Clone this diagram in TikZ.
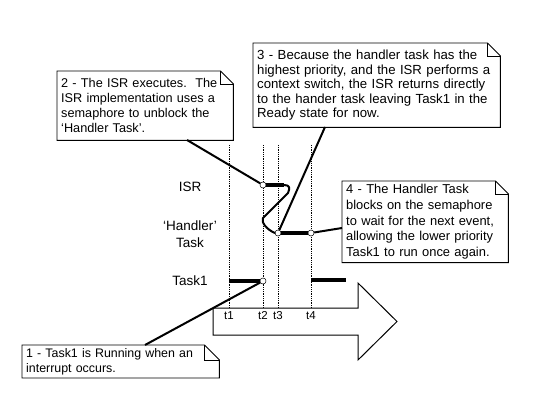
\documentclass[tikz,border=0pt]{standalone}
\usepackage{fontspec}
\setmainfont{Liberation Sans}
\begin{document}
\begin{tikzpicture}[x=1pt,y=-1pt,
  callout/.style={anchor=north west,inner xsep=4pt,inner ysep=3pt,align=left,font=\fontsize{12.7}{15}\selectfont},
  boxline/.style={draw=black,line width=0.9pt,line join=miter},
  rowlabel/.style={font=\fontsize{13.5}{17}\selectfont,align=center},
  tlabel/.style={font=\fontsize{11.5}{12}\selectfont,inner sep=0pt},
  pointer/.style={line width=2pt},
  bar/.style={line width=4.2pt},
  tick/.style={densely dotted,line width=0.8pt},
  dot/.style={circle,draw=black,fill=white,line width=0.5pt,inner sep=0pt,minimum size=6pt},
  zig/.style={line width=2pt,line join=round,line cap=round}]
\newcommand{\foldbox}[2]{%
  \draw[boxline] (#1.north west) -- ([xshift=-#2]#1.north east) -- ([yshift=-#2]#1.north east) -- (#1.south east) -- (#1.south west) -- cycle;
  \draw[boxline,line width=0.6pt] ([xshift=-#2]#1.north east) -- ([xshift=-#2,yshift=-#2]#1.north east) -- ([yshift=-#2]#1.north east);}
\useasboundingbox (0,0) rectangle (551,406);
\fill[white] (0,0) rectangle (551,406);

% time arrow
\draw[line width=1pt,line join=miter] (213,308) -- (358,308) -- (358,283) -- (397,321.5) -- (358,360) -- (358,335) -- (213,335) -- cycle;

% dotted time lines
\foreach \n/\x in {1/229,2/263,3/278,4/311}{
  \coordinate (top\n) at (\x,145);
  \coordinate (bot\n) at (\x,308);
  \draw[tick] (top\n) -- (bot\n);
  \node[tlabel] (t\n) at (\x,316) {t\n};
}

% row labels
\node[rowlabel] (lisr) at (190,187) {ISR};
\node[rowlabel] (lhandler) at (190,234) {`Handler'\\Task};
\node[rowlabel] (ltask) at (190,281) {Task1};

% bars
\coordinate (isrEnd) at (284,185);
\coordinate (taskStart) at (229,281);
\coordinate (taskB1) at (311,280);
\coordinate (taskB2) at (346,280);
\node[dot] (isrA) at (263,185) {};
\node[dot] (hA) at (278,233) {};
\node[dot] (hB) at (311,233) {};
\node[dot] (tA) at (263,281) {};
\draw[bar] (isrA.east) -- (isrEnd);
\draw[bar] (hA.east) -- (hB.west);
\draw[bar] (taskStart) -- (tA.west);
\draw[bar] (taskB1) -- (taskB2);

% zigzag context switch
\draw[zig] (isrEnd) .. controls (290,185) and (290,188) .. (288,193) -- (263,218) .. controls (261,222) and (266,229) .. (hA.west);

% callouts
\node[callout,text width=168pt,minimum height=69pt] (c2) at (57,71)
  {2 - The ISR executes.\ \ The\\ISR implementation uses a\\semaphore to unblock the\\`Handler Task'.};
\foldbox{c2}{13pt}
\node[callout,text width=239pt,minimum height=84pt,font=\fontsize{13.2}{14.6}\selectfont] (c3) at (253,43)
  {3 - Because the handler task has the\\highest priority, and the ISR performs a\\context switch, the ISR returns directly\\to the hander task leaving Task1 in the\\Ready state for now.};
\foldbox{c3}{13pt}
\node[callout,text width=158pt,minimum height=81pt,font=\fontsize{12.9}{15.8}\selectfont] (c4) at (342,181)
  {4 - The Handler Task\\blocks on the semaphore\\to wait for the next event,\\allowing the lower priority\\Task1 to run once again.};
\foldbox{c4}{13pt}
\node[callout,text width=189pt,minimum height=31pt,font=\fontsize{12.4}{15}\selectfont] (c1) at (22,345)
  {1 - Task1 is Running when an\\interrupt occurs.};
\foldbox{c1}{15pt}

% pointers
\coordinate (p2) at (187,140);
\coordinate (p3) at (325,127);
\coordinate (p4) at (342,228);
\coordinate (p1) at (145,345);
\draw[pointer] (p2) -- (isrA);
\draw[pointer] (p3) -- (hA);
\draw[pointer] (hB) -- (p4);
\draw[pointer] (p1) -- (tA);
\end{tikzpicture}
\end{document}
